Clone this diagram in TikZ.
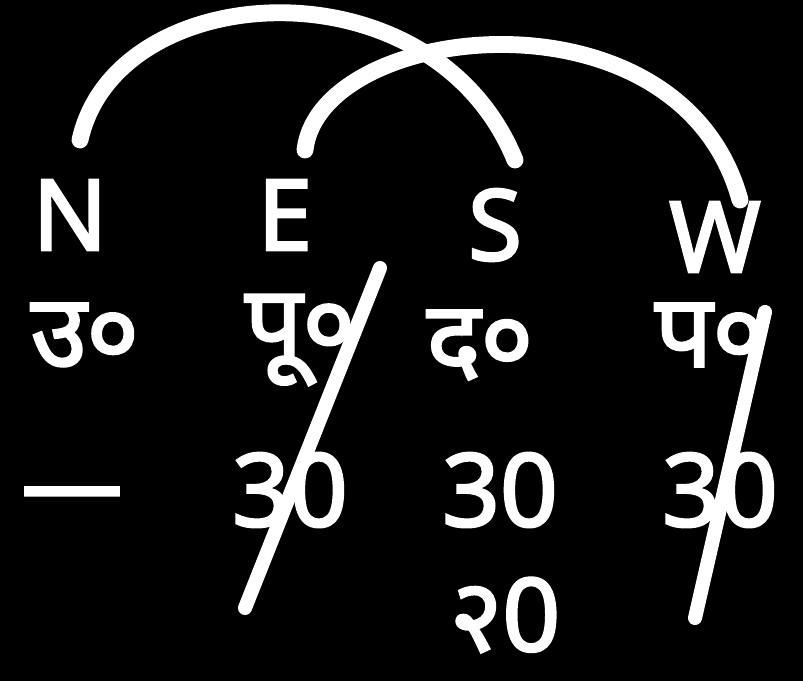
\documentclass[tikz,border=0pt]{standalone}
\usepackage{fontspec}
\setmainfont{Noto Sans}[FakeBold=2.5]
\newfontfamily\chalkfont{Noto Sans}[FakeBold=2.5]
\newfontfamily\deva{Noto Sans}[Script=Devanagari,FakeBold=2.5]
\usetikzlibrary{calc,positioning}
\tikzset{
  chalk/.style     = {draw=white, line width=12pt, line cap=round},
  strike/.style    = {draw=white, line width=10pt, line cap=round},
  dirlabel/.style  = {text=white, font=\chalkfont\fontsize{70}{80}\selectfont, inner sep=0pt},
  hindi/.style     = {text=white, font=\deva\fontsize{72}{80}\selectfont, inner sep=0pt},
  num/.style       = {text=white, font=\chalkfont\fontsize{72}{80}\selectfont, inner sep=0pt},
}

\begin{document}
\begin{tikzpicture}
  \fill[black] (0,0) rectangle (20.075,17.025);
  \useasboundingbox (0,0) rectangle (20.075,17.025);

  % directions
  \node[dirlabel] (n) at (1.75,11.65)  {N};
  \node[dirlabel] (e) at (7.125,11.65) {E};
  \node[dirlabel] (s) at (12.375,11.4) {S};
  \node[dirlabel] (w) at (17.875,11.1) {W};

  % hindi names
  \node[hindi] (un) at (2.125,8.65) {उ०};
  \node[hindi] (pu) at (7.5,8.525)  {पू०};
  \node[hindi] (da) at (12,8.4)     {द०};
  \node[hindi] (pa) at (17.75,8.65) {प०};

  % values
  \node[num] (vn) at (1.8,4.45)    {—};
  \node[num] (ve) at (7.25,4.775)  {30};
  \node[num] (vs) at (12.5,4.775)  {30};
  \node[num] (vw) at (18,4.775)    {30};
  \node[num] (vs2) at (12.625,1.65) {{\deva २}0};

  % arc ends
  \coordinate (n top) at (2.0,13.525);
  \coordinate (s top) at (12.875,13.025);
  \coordinate (e top) at (7.625,13.275);
  \coordinate (w top) at (18.5,12.025);

  \draw[chalk] (n top) .. controls (2.9,17.6) and (10.8,18.1) .. (s top);
  \draw[chalk] (e top) .. controls (8.0,16.5) and (17.0,17.5) .. (w top);

  % struck out columns
  \coordinate (e a) at (9.5,10.325);
  \coordinate (e b) at (6.125,1.825);
  \coordinate (w a) at (19.125,9.225);
  \coordinate (w b) at (17.375,1.575);
  \draw[strike] (e a) -- (e b);
  \draw[strike] (w a) -- (w b);
\end{tikzpicture}
\end{document}
